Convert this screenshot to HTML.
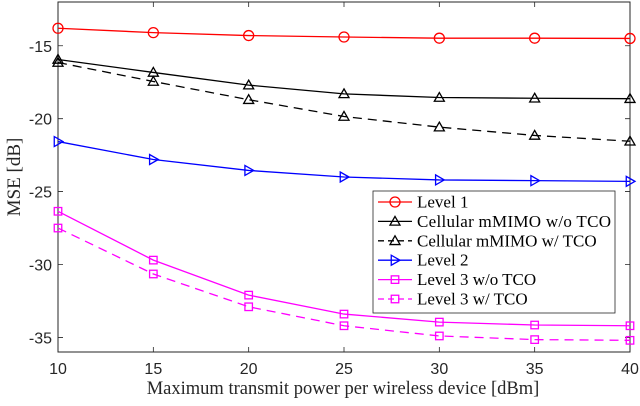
<!DOCTYPE html>
<html><head><meta charset="utf-8"><style>
body{margin:0;background:#fff;}
svg text{font-family:"Liberation Serif",serif;}
</style></head><body>
<svg id="chart" width="640" height="401" xmlns="http://www.w3.org/2000/svg"></svg>
<script>
const xValues=[10,15,20,25,30,35,40];
const level1=[-13.8,-14.1,-14.3,-14.4,-14.48,-14.48,-14.5];
const cellWo=[-15.94,-16.83,-17.7,-18.3,-18.55,-18.6,-18.63];
const cellW=[-16.15,-17.45,-18.7,-19.85,-20.58,-21.15,-21.55];
const level2=[-21.57,-22.8,-23.55,-24.0,-24.2,-24.25,-24.3];
const l3Wo=[-26.35,-29.7,-32.1,-33.4,-33.95,-34.15,-34.2];
const l3W=[-27.5,-30.65,-32.9,-34.2,-34.9,-35.15,-35.2];
const xTicks=[10,15,20,25,30,35,40];
const yTicks=[-15,-20,-25,-30,-35];
const seriesNames=["Level 1","Cellular mMIMO w/o TCO","Cellular mMIMO w/ TCO","Level 2","Level 3 w/o TCO","Level 3 w/ TCO"];

const L=58,R=630,T=2,B=352,xmin=10,xmax=40,ymin=-36,ymax=-12;
const sx=v=>L+(v-xmin)/(xmax-xmin)*(R-L);
const sy=v=>B-(v-ymin)/(ymax-ymin)*(B-T);
const svg=document.getElementById('chart');
const NS='http://www.w3.org/2000/svg';
function mk(tag,attrs,parent){const e=document.createElementNS(NS,tag);for(const k in attrs)e.setAttribute(k,attrs[k]);(parent||svg).appendChild(e);return e;}

mk('rect',{x:L,y:T,width:R-L,height:B-T,fill:'#fff',stroke:'none'});
xTicks.forEach(t=>{
  const x=sx(t);
  const tk=mk('path',{d:`M${x},${B}V${B-5}M${x},${T}V${T+5}`,stroke:'#262626','stroke-width':0.8});
  
  
  const lb=mk('text',{x:x,y:B+22,'text-anchor':'middle','font-size':16,fill:'#262626'});
  lb.style.fontFamily='"Liberation Sans",sans-serif';
  lb.textContent=t;
  
  
});
yTicks.forEach(t=>{
  const y=sy(t);
  const tk=mk('path',{d:`M${L},${y}H${L+5}M${R},${y}H${R-5}`,stroke:'#262626','stroke-width':0.8});
  
  
  const lb=mk('text',{x:L-6,y:y+6,'text-anchor':'end','font-size':16,fill:'#262626'});
  lb.style.fontFamily='"Liberation Sans",sans-serif';
  lb.textContent=t;
  
  
});
const frame=mk('rect',{x:L,y:T,width:R-L,height:B-T,fill:'none',stroke:'#262626','stroke-width':1});



function marker(g,type,x,y,color,s){
  if(type==='o')mk('circle',{cx:x,cy:y,r:s,fill:'none',stroke:color,'stroke-width':1.3},g);
  if(type==='^')mk('path',{d:`M${x},${y-s}L${x+s},${y+s*0.75}L${x-s},${y+s*0.75}Z`,fill:'none',stroke:color,'stroke-width':1.3},g);
  if(type==='>')mk('path',{d:`M${x+s},${y}L${x-s*0.75},${y-s}L${x-s*0.75},${y+s}Z`,fill:'none',stroke:color,'stroke-width':1.3},g);
  if(type==='s')mk('rect',{x:x-s*0.75,y:y-s*0.75,width:s*1.5,height:s*1.5,fill:'none',stroke:color,'stroke-width':1.3},g);
}
const series=[
 {d:level1,c:'#ff0000',m:'o',dash:null,n:'series-level-1'},
 {d:cellWo,c:'#000',m:'^',dash:null,n:'series-cellular-wo-tco'},
 {d:cellW,c:'#000',m:'^',dash:'9,6',n:'series-cellular-w-tco'},
 {d:level2,c:'#0000ff',m:'>',dash:null,n:'series-level-2'},
 {d:l3Wo,c:'#ff00ff',m:'s',dash:null,n:'series-level-3-wo-tco'},
 {d:l3W,c:'#ff00ff',m:'s',dash:'9,6',n:'series-level-3-w-tco'}
];
series.forEach(s=>{
  const g=mk('g',{});
  
  
  const pts=s.d.map((v,i)=>`${sx(xValues[i])},${sy(v)}`).join(' ');
  const a={points:pts,fill:'none',stroke:s.c,'stroke-width':1.3};
  if(s.dash)a['stroke-dasharray']=s.dash;
  mk('polyline',a,g);
  s.d.forEach((v,i)=>marker(g,s.m,sx(xValues[i]),sy(v),s.c,5));
});

const lg=mk('g',{});


mk('rect',{x:373,y:191,width:242,height:122,fill:'#fff',stroke:'#262626','stroke-width':0.8},lg);
series.forEach((s,i)=>{
  const y=202+i*19.4;
  const e=mk('g',{},lg);
  
  
  const a={x1:378,x2:412,y1:y,y2:y,stroke:s.c,'stroke-width':1.3};
  if(s.dash)a['stroke-dasharray']='6,4';
  mk('line',a,e);
  marker(e,s.m,395,y,s.c,5);
  const t=mk('text',{x:417,y:y+5.5,'font-size':17,fill:'#000',textLength:(i==1?194:undefined)},e);
  if(i!=1)t.removeAttribute('textLength');
  t.textContent=seriesNames[i];
});

const xl=mk('text',{x:(L+R)/2-1,y:394,'text-anchor':'middle','font-size':18.5,fill:'#262626'});
xl.textContent='Maximum transmit power per wireless device [dBm]';


const yl=mk('text',{x:0,y:0,'text-anchor':'middle','font-size':19,fill:'#262626',transform:`translate(20,${(T+B)/2}) rotate(-90)`});
yl.textContent='MSE [dB]';


</script>
</body></html>
